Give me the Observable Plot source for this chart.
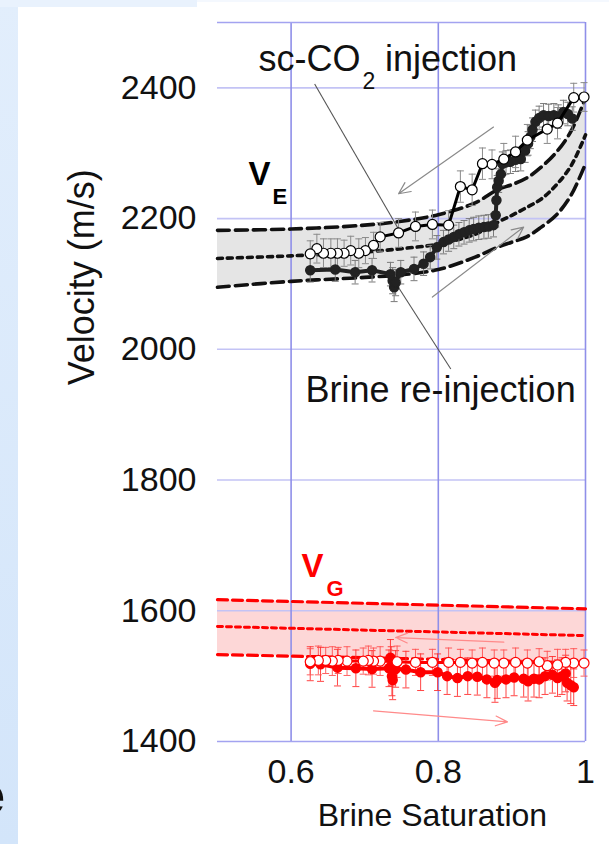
<!DOCTYPE html>
<html>
<head>
<meta charset="utf-8">
<script src="https://cdn.jsdelivr.net/npm/d3@7"></script>
<script src="https://cdn.jsdelivr.net/npm/@observablehq/plot@0.6"></script>
<style>
  html, body { margin: 0; padding: 0; }
  body { width: 609px; height: 844px; position: relative; overflow: hidden; background: #ffffff; font-family: "Liberation Sans", Arial, sans-serif; }
  #strip { position: absolute; left: 0; top: 0; width: 18px; height: 844px; background: linear-gradient(#e2eefc, #d3e5fa); }
  #topband { position: absolute; left: 0; top: 0; width: 197px; height: 7px; background: #e9f2fd; }
  #topband2 { position: absolute; left: 197px; top: 0; width: 412px; height: 2px; background: #f4f8fe; }
  #slideletter { position: absolute; left: -26px; top: 762px; font: bold 56px "Liberation Sans", Arial, sans-serif; color: #111; }
  #chart { position: absolute; left: 0; top: 0; }
</style>
</head>
<body>
<div id="strip"></div>
<div id="topband"></div>
<div id="topband2"></div>
<div id="slideletter">e</div>
<div id="chart"></div>
<script>
// ---------- data ----------
// grey envelope of V_E (dashed bounds and dotted middle)
const envEX      = [0.5, 0.6, 0.7, 0.75, 0.8, 0.85, 0.88, 0.9, 0.92, 0.94, 0.96, 0.98, 1.0];
const envEUpper  = [2182, 2184, 2190, 2196, 2206, 2224, 2244, 2252, 2262, 2279, 2301, 2333, 2385];
const envEMiddle = [2139, 2143, 2149, 2154, 2161, 2176, 2194, 2205, 2217, 2230, 2251, 2280, 2328];
const envELower  = [2095, 2104, 2110, 2114, 2122, 2141, 2156, 2164, 2172, 2187, 2205, 2235, 2284];

// red envelope of V_G
const envGX      = [0.5, 0.75, 1.0];
const envGUpper  = [1617, 1610, 1603];
const envGMiddle = [1576, 1569, 1562];
const envGLower  = [1533, 1527, 1520];

// V_E, sc-CO2 injection (open circles), in acquisition order
const eOpenX = [0.998, 0.984, 0.962, 0.948, 0.921, 0.905, 0.889, 0.873, 0.860, 0.846, 0.830, 0.814, 0.792, 0.769, 0.746, 0.721, 0.712, 0.701, 0.692, 0.681, 0.672, 0.663, 0.654, 0.644, 0.635, 0.626];
const eOpenV = [2386, 2385, 2346, 2337, 2320, 2302, 2291, 2283, 2284, 2244, 2249, 2190, 2191, 2188, 2178, 2172, 2159, 2151, 2147, 2151, 2147, 2147, 2147, 2147, 2154, 2146];
const eOpenE = [22, 22, 24, 22, 24, 24, 24, 22, 24, 24, 24, 22, 22, 22, 22, 22, 20, 20, 22, 22, 20, 22, 22, 22, 22, 20];

// V_E, brine re-injection (filled circles)
const eFillX = [0.626, 0.660, 0.687, 0.710, 0.735, 0.738, 0.740, 0.742, 0.749, 0.767, 0.780, 0.789, 0.798, 0.807, 0.814, 0.821, 0.828, 0.835, 0.842, 0.848, 0.855, 0.862, 0.868, 0.875, 0.878, 0.879, 0.880, 0.882, 0.885, 0.887, 0.892, 0.898, 0.905, 0.912, 0.918, 0.922, 0.925, 0.928, 0.932, 0.937, 0.943, 0.950, 0.957, 0.963, 0.970, 0.976, 0.982];
const eFillV = [2121, 2122, 2118, 2121, 2115, 2105, 2095, 2102, 2118, 2123, 2131, 2141, 2156, 2164, 2168, 2172, 2176, 2179, 2182, 2184, 2186, 2187, 2188, 2190, 2205, 2228, 2248, 2258, 2268, 2284, 2286, 2287, 2290, 2291, 2304, 2315, 2325, 2336, 2348, 2354, 2358, 2357, 2358, 2356, 2363, 2360, 2353];
const eFillE = [18, 18, 18, 18, 18, 20, 22, 20, 18, 18, 18, 18, 18, 18, 18, 18, 18, 18, 18, 18, 18, 18, 18, 18, 18, 18, 18, 18, 18, 18, 18, 18, 18, 18, 18, 18, 18, 18, 18, 18, 18, 18, 18, 18, 18, 18, 18];

// V_G, sc-CO2 injection (open circles)
const gOpenX = [0.998, 0.984, 0.973, 0.962, 0.948, 0.937, 0.921, 0.905, 0.889, 0.876, 0.860, 0.846, 0.830, 0.814, 0.792, 0.769, 0.744, 0.721, 0.712, 0.705, 0.698, 0.676, 0.664, 0.656, 0.647, 0.637, 0.626];
const gOpenV = [1520, 1520, 1521, 1517, 1516, 1522, 1520, 1521, 1520, 1520, 1521, 1520, 1521, 1521, 1521, 1521, 1522, 1523, 1523, 1524, 1523, 1523, 1524, 1523, 1524, 1524, 1522];
const gOpenE = [20, 22, 20, 24, 22, 20, 20, 22, 20, 20, 22, 20, 20, 22, 20, 20, 24, 22, 20, 22, 20, 22, 20, 22, 20, 22, 20];

// V_G, brine re-injection (filled circles)
const gFillX = [0.626, 0.640, 0.663, 0.688, 0.710, 0.733, 0.735, 0.736, 0.737, 0.738, 0.742, 0.756, 0.776, 0.799, 0.812, 0.826, 0.840, 0.853, 0.866, 0.877, 0.880, 0.892, 0.903, 0.916, 0.922, 0.930, 0.937, 0.945, 0.955, 0.962, 0.968, 0.973, 0.975, 0.980, 0.984];
const gFillV = [1519, 1518, 1513, 1512, 1511, 1512, 1528, 1515, 1500, 1494, 1511, 1510, 1506, 1506, 1500, 1497, 1500, 1499, 1495, 1490, 1494, 1495, 1498, 1496, 1492, 1496, 1495, 1500, 1502, 1497, 1500, 1504, 1490, 1486, 1483];
const gFillE = [26, 26, 28, 28, 28, 28, 28, 30, 30, 30, 28, 28, 28, 28, 28, 28, 28, 28, 28, 30, 28, 28, 28, 28, 30, 28, 28, 28, 28, 28, 28, 28, 28, 28, 28];

// axis ticks
const xTicks = [0.6, 0.8, 1];
const yTicks = [1400, 1600, 1800, 2000, 2200, 2400];
const yGrid  = [1600, 1800, 2000, 2200, 2400];
const xGrid  = [0.6, 0.8];

// arrows and pointer lines (data coordinates)
const greyArrows = [
  {x1: 0.875, y1: 2340, x2: 0.746, y2: 2238},
  {x1: 0.792, y1: 2080, x2: 0.916, y2: 2187}
];
const redArrows = [
  {x1: 0.889, y1: 1552, x2: 0.742, y2: 1559},
  {x1: 0.712, y1: 1447, x2: 0.894, y2: 1430}
];
const pointers = [
  {x1: 0.632, y1: 2406, x2: 0.748, y2: 2180},
  {x1: 0.817, y1: 1970, x2: 0.744, y2: 2098}
];

// annotation texts
const plainLabels = [
  {text: "sc-CO", x: 0.5557, y: 2426, size: 36},
  {text: "2", x: 0.697, y: 2399, size: 23},
  {text: "injection", x: 0.7276, y: 2426, size: 36},
  {text: "Brine re-injection", x: 0.6196, y: 1919, size: 36}
];
const blackSymbols = [
  {text: "V", x: 0.5421, y: 2251, size: 33},
  {text: "E", x: 0.5747, y: 2222, size: 22}
];
const redSymbols = [
  {text: "V", x: 0.6141, y: 1651, size: 33},
  {text: "G", x: 0.6481, y: 1623, size: 22}
];

// ---------- build tables ----------
const envE = envEX.map((x, i) => ({x, up: envEUpper[i], mid: envEMiddle[i], lo: envELower[i]}));
const envG = envGX.map((x, i) => ({x, up: envGUpper[i], mid: envGMiddle[i], lo: envGLower[i]}));
const mk = (X, V, E) => X.map((x, i) => ({x, v: V[i], e: E[i]}));
const eOpen = mk(eOpenX, eOpenV, eOpenE);
const eFill = mk(eFillX, eFillV, eFillE);
const gOpen = mk(gOpenX, gOpenV, gOpenE);
const gFill = mk(gFillX, gFillV, gFillE);

const cap = {draw(ctx, size) { const r = Math.sqrt(size / Math.PI); ctx.moveTo(-r, 0); ctx.lineTo(r, 0); }};

function errorBars(data, color, w) {
  return [
    Plot.ruleX(data, {x: "x", y1: d => d.v - d.e, y2: d => d.v + d.e, stroke: color, strokeWidth: w}),
    Plot.dot(data, {x: "x", y: d => d.v + d.e, symbol: cap, r: 3.5, fill: "none", stroke: color, strokeWidth: w}),
    Plot.dot(data, {x: "x", y: d => d.v - d.e, symbol: cap, r: 3.5, fill: "none", stroke: color, strokeWidth: w})
  ];
}

const FONT = "Liberation Sans, Arial, Helvetica, sans-serif";

const chart = Plot.plot({
  width: 609,
  height: 844,
  marginLeft: 217,
  marginRight: 24,
  marginTop: 22,
  marginBottom: 103,
  style: {background: "transparent", fontFamily: FONT, fontSize: "34px", color: "#111", overflow: "visible"},
  x: {domain: [0.5, 1], ticks: xTicks, tickFormat: d => String(d), tickSize: 0, tickPadding: 17, label: null},
  y: {domain: [1400, 2500], ticks: yTicks, tickFormat: d => String(d), tickSize: 0, tickPadding: 21, label: null},
  marks: [
    // envelopes
    Plot.areaY(envE, {x: "x", y1: "lo", y2: "up", fill: "#e5e5e5", curve: "catmull-rom"}),
    Plot.areaY(envG, {x: "x", y1: "lo", y2: "up", fill: "#fdd7d7"}),
    // grid and frame
    Plot.ruleY(yGrid, {stroke: "#c3c3f5", strokeWidth: 1.6}),
    Plot.ruleX(xGrid, {stroke: "#8f8fe9", strokeWidth: 1.6}),
    Plot.ruleY([2500], {stroke: "#a3a3f0", strokeWidth: 1.6}),
    Plot.ruleY([1400], {stroke: "#a3a3f0", strokeWidth: 1.6}),
    Plot.ruleX([1], {stroke: "#8f8fe9", strokeWidth: 1.6}),
    // envelope curves
    Plot.line(envE, {x: "x", y: "up", stroke: "#111", strokeWidth: 3.6, strokeDasharray: "12,6", curve: "catmull-rom"}),
    Plot.line(envE, {x: "x", y: "mid", stroke: "#111", strokeWidth: 3.6, strokeDasharray: "5,5", curve: "catmull-rom"}),
    Plot.line(envE, {x: "x", y: "lo", stroke: "#111", strokeWidth: 3.6, strokeDasharray: "12,6", curve: "catmull-rom"}),
    Plot.line(envG, {x: "x", y: "up", stroke: "#ff0000", strokeWidth: 3.2, strokeDasharray: "10,5"}),
    Plot.line(envG, {x: "x", y: "mid", stroke: "#ff0000", strokeWidth: 3, strokeDasharray: "5,4"}),
    Plot.line(envG, {x: "x", y: "lo", stroke: "#ff0000", strokeWidth: 3.2, strokeDasharray: "10,5"}),
    // arrows and pointers
    Plot.arrow(greyArrows, {x1: "x1", y1: "y1", x2: "x2", y2: "y2", stroke: "#8a8a8a", strokeWidth: 1.2, headLength: 16, headAngle: 50}),
    Plot.arrow(redArrows, {x1: "x1", y1: "y1", x2: "x2", y2: "y2", stroke: "#ff8a8a", strokeWidth: 1.2, headLength: 16, headAngle: 45}),
    Plot.link(pointers, {x1: "x1", y1: "y1", x2: "x2", y2: "y2", stroke: "#555", strokeWidth: 1.1}),
    // V_E data
    ...errorBars(eFill, "#7a7a7a", 1),
    ...errorBars(eOpen, "#8a8a8a", 1),
    Plot.line(eFill, {x: "x", y: "v", stroke: "#222", strokeWidth: 4}),
    Plot.dot(eFill, {x: "x", y: "v", r: 4.5, fill: "#222", stroke: "#222"}),
    Plot.line(eOpen, {x: "x", y: "v", stroke: "#000", strokeWidth: 3}),
    Plot.dot(eOpen, {x: "x", y: "v", r: 5, fill: "white", stroke: "#000", strokeWidth: 1.2}),
    // V_G data
    ...errorBars(gFill, "#ff3030", 0.9),
    ...errorBars(gOpen, "#ff5050", 0.9),
    Plot.line(gFill, {x: "x", y: "v", stroke: "#ff0000", strokeWidth: 4}),
    Plot.dot(gFill, {x: "x", y: "v", r: 4.5, fill: "#ff0000", stroke: "#ff0000"}),
    Plot.line(gOpen, {x: "x", y: "v", stroke: "#ff0000", strokeWidth: 3}),
    Plot.dot(gOpen, {x: "x", y: "v", r: 5, fill: "white", stroke: "#ff0000", strokeWidth: 1.2}),
    // labels
    Plot.text(plainLabels, {x: "x", y: "y", text: "text", fontSize: "size", fill: "#111", textAnchor: "start", lineAnchor: "bottom"}),
    Plot.text(blackSymbols, {x: "x", y: "y", text: "text", fontSize: "size", fontWeight: "bold", fill: "#000", textAnchor: "start", lineAnchor: "bottom"}),
    Plot.text(redSymbols, {x: "x", y: "y", text: "text", fontSize: "size", fontWeight: "bold", fill: "#ff0000", textAnchor: "start", lineAnchor: "bottom"}),
    // axis titles
    Plot.text(["Brine Saturation"], {x: 0.792, frameAnchor: "bottom", dy: 84, lineAnchor: "bottom", fontSize: 32, fill: "#111"}),
    Plot.text(["Velocity (m/s)"], {y: 1945, frameAnchor: "left", dx: -124, rotate: -90, lineAnchor: "bottom", fontSize: 36, fill: "#111"})
  ]
});
document.getElementById("chart").appendChild(chart);
</script>
</body>
</html>
